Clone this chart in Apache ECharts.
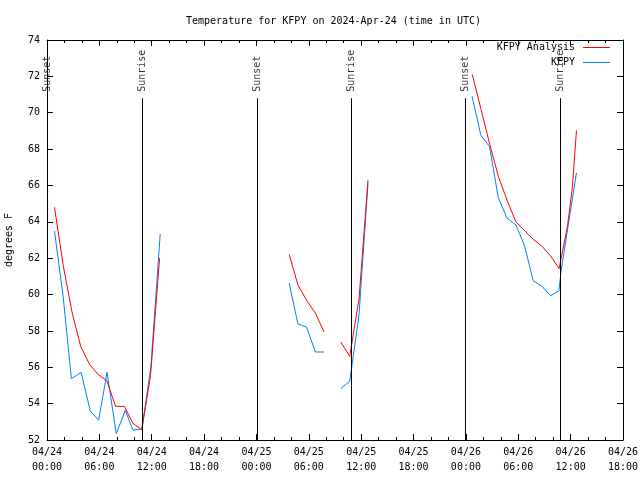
<!DOCTYPE html>
<html><head><meta charset="utf-8">
<script src="https://cdn.jsdelivr.net/npm/echarts@6/dist/echarts.min.js"></script>
<style>html,body{margin:0;padding:0;background:#fff}#c{width:640px;height:480px}</style>
</head><body><div id="c"></div>
<script>
// Hours since 2024-04-24 00:00 UTC; null marks a gap in the record
const analysisHours = [0.86,1.86,2.86,3.86,4.86,5.86,6.86,7.86,8.86,9.86,10.86,11.86,12.9,null,
  27.75,28.75,29.75,30.75,31.75,null,
  33.66,34.69,35.75,36.78,null,
  48.73,49.73,50.73,51.73,52.73,53.73,54.73,55.73,56.73,57.73,58.68,59.63,60.2,60.67];
const analysisTemps = [64.8,61.6,59.05,57.15,56.17,55.6,55.26,53.85,53.85,52.9,52.58,55.54,62.0,null,
  62.21,60.53,59.68,58.98,57.94,null,
  57.39,56.6,59.76,66.29,null,
  72.1,70.19,68.26,66.48,65.17,64.0,63.51,63.03,62.65,62.1,61.43,63.73,65.92,69.03];
const obsHours = [0.86,1.85,2.8,3.91,4.97,5.92,6.88,7.94,8.97,9.85,10.88,11.91,12.97,null,
  27.75,28.75,29.75,30.75,31.75,null,
  33.66,34.69,35.75,36.78,null,
  48.71,49.71,50.71,51.71,52.71,53.71,54.71,55.71,56.71,57.71,58.66,58.91,59.6,60.67];
const obsTemps = [63.49,59.89,55.37,55.72,53.58,53.09,55.72,52.34,53.63,52.54,52.61,56.05,63.33,null,
  60.62,58.39,58.2,56.84,56.84,null,
  54.83,55.23,58.88,66.11,null,
  70.9,68.77,68.13,65.33,64.2,63.84,62.7,60.76,60.45,59.93,60.22,61.3,63.44,66.69];
const sunHours = [0.06,10.94,24.12,34.89,47.95,58.84];
const sunNames = ['Sunset','Sunrise','Sunset','Sunrise','Sunset','Sunrise'];
const xTickLabels = ['04/24\n00:00','04/24\n06:00','04/24\n12:00','04/24\n18:00',
  '04/25\n00:00','04/25\n06:00','04/25\n12:00','04/25\n18:00',
  '04/26\n00:00','04/26\n06:00','04/26\n12:00','04/26\n18:00'];
const yTickLabels = ['52','54','56','58','60','62','64','66','68','70','72','74'];
const titleText = 'Temperature for KFPY on 2024-Apr-24 (time in UTC)';
const seriesNames = ['KFPY Analysis','KFPY'];
const seriesColors = ['#ff0000','#0080ff'];

const FONT = 'DejaVu Sans Mono';
const SUN_LINE_TOP = 70.8, SUN_LABEL_AT = 71.15, Y_MIN = 52, Y_MAX = 74;

function segments(hours, temps){
  const out = []; let cur = [];
  hours.forEach((h,i)=>{
    if (h === null) { if (cur.length) out.push(cur); cur = []; }
    else cur.push([h, temps[i]]);
  });
  if (cur.length) out.push(cur);
  return out;
}

const series = [];
segments(analysisHours, analysisTemps).forEach(seg => series.push({
  type:'line', name:seriesNames[0], data:seg, symbol:'none', z:4,
  lineStyle:{color:seriesColors[0], width:1}, itemStyle:{color:seriesColors[0]}
}));
segments(obsHours, obsTemps).forEach(seg => series.push({
  type:'line', name:seriesNames[1], data:seg, symbol:'none', z:3,
  lineStyle:{color:seriesColors[1], width:1}, itemStyle:{color:seriesColors[1]}
}));
sunHours.forEach(t => series.push({
  type:'line', data:[[t,Y_MIN],[t,SUN_LINE_TOP]], symbol:'none', z:5,
  lineStyle:{color:'#000', width:1}
}));
series.push({
  type:'scatter', symbolSize:1, itemStyle:{color:'rgba(0,0,0,0)'}, z:6,
  data: sunHours.map((t,i)=>({value:[t,SUN_LABEL_AT], name:sunNames[i]})),
  label:{show:true, formatter:'{b}', rotate:90, position:'inside', align:'left', verticalAlign:'middle',
    fontFamily:FONT, fontSize:10, color:'#000'}
});

const axisLine = {show:true, onZero:false, lineStyle:{color:'#000', width:1}};
const tick = {show:true, inside:true, length:6, lineStyle:{color:'#000'}};
const option = {
  animation:false,
  backgroundColor:'#fff',
  title:{text:titleText, left:181, top:11, textStyle:{fontFamily:FONT, fontSize:10, fontWeight:'normal', color:'#000'}},
  legend:{orient:'vertical', right:25, top:35, align:'right', icon:'rect', itemWidth:27, itemHeight:1, itemGap:0,
    data:seriesNames.map((n,i)=>({name:n, itemStyle:{color:seriesColors[i], borderWidth:0}})),
    textStyle:{fontFamily:FONT, fontSize:10, color:'#000', lineHeight:15, padding:[0,3,0,0]}},
  grid:{left:47, top:40, width:576, height:400, containLabel:false, outerBoundsMode:'none'},
  xAxis:[
    {type:'value', min:0, max:66, interval:6, position:'bottom', axisLine, axisTick:tick,
     minorTick:{show:true, splitNumber:3, length:3, lineStyle:{color:'#000'}}, splitLine:{show:false},
     axisLabel:{formatter:v=>xTickLabels[Math.round(v/6)], fontFamily:FONT, fontSize:10, color:'#000', lineHeight:15, margin:5}},
    {type:'value', min:0, max:66, interval:6, position:'top', axisLine, axisTick:tick,
     minorTick:{show:true, splitNumber:3, length:3, lineStyle:{color:'#000'}}, splitLine:{show:false},
     axisLabel:{show:false}}
  ],
  yAxis:[
    {type:'value', min:Y_MIN, max:Y_MAX, interval:2, position:'left', axisLine, axisTick:tick, splitLine:{show:false},
     axisLabel:{formatter:v=>yTickLabels[Math.round((v-Y_MIN)/2)], fontFamily:FONT, fontSize:10, color:'#000', margin:7},
     name:'degrees F', nameLocation:'middle', nameRotate:90, nameGap:33,
     nameTextStyle:{fontFamily:FONT, fontSize:10, color:'#000'}},
    {type:'value', min:Y_MIN, max:Y_MAX, interval:2, position:'right', axisLine, axisTick:tick, splitLine:{show:false},
     axisLabel:{show:false}}
  ],
  series
};
const chart = echarts.init(document.getElementById('c'), null, {renderer:'canvas'});
chart.setOption(option);
</script></body></html>
